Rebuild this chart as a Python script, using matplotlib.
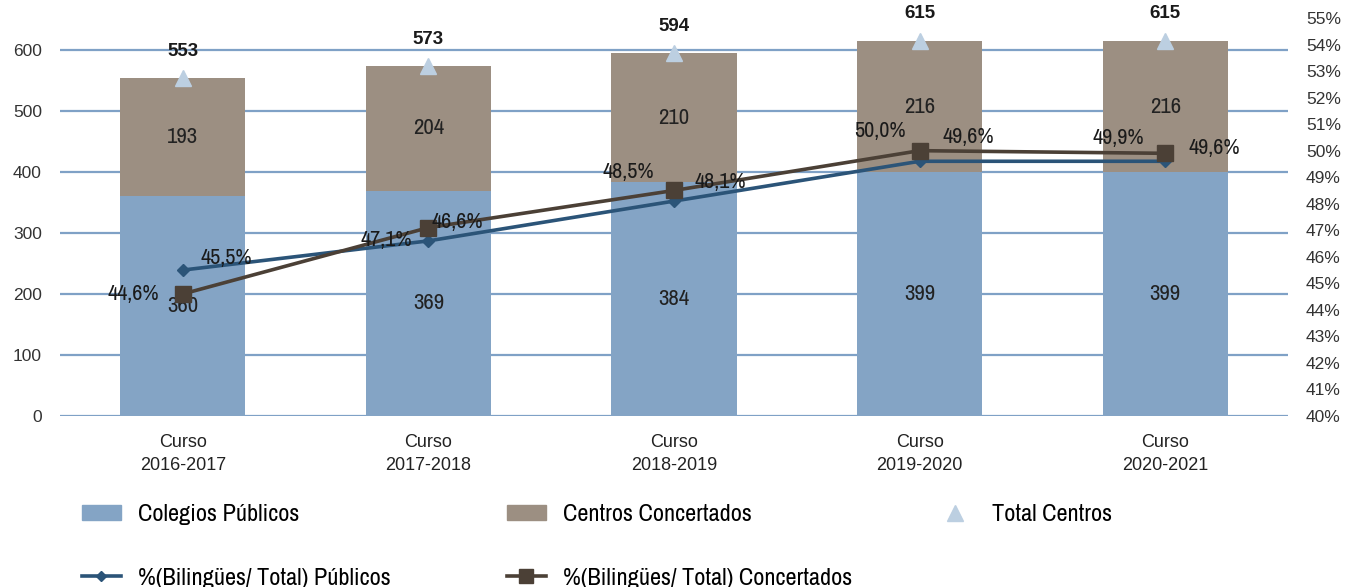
import matplotlib
matplotlib.use('Agg')
import matplotlib.pyplot as plt
from matplotlib.lines import Line2D
from matplotlib.patches import Patch

# data
cursos = ['Curso\n2016-2017', 'Curso\n2017-2018', 'Curso\n2018-2019',
          'Curso\n2019-2020', 'Curso\n2020-2021']
publicos = [360, 369, 384, 399, 399]
concertados = [193, 204, 210, 216, 216]
totales = [553, 573, 594, 615, 615]
pct_publicos = [45.5, 46.6, 48.1, 49.6, 49.6]
pct_concertados = [44.6, 47.1, 48.5, 50.0, 49.9]

c_pub = '#84a4c5'
c_conc = '#9c8f82'
c_lpub = '#2b5478'
c_lconc = '#4b4036'
c_grid = '#7fa1c6'
c_tri = '#bccfe1'
narrow = ['Archivo Narrow', 'DejaVu Sans']
regular = ['Liberation Sans', 'DejaVu Sans']

fig = plt.figure(figsize=(13.46, 5.87), dpi=100)
ax = fig.add_axes([60 / 1346, 1 - 416 / 587, 1228 / 1346, 398 / 587])
ax2 = ax.twinx()

x = list(range(len(cursos)))
w = 0.51
ax.bar(x, publicos, w, color=c_pub, zorder=2)
ax.bar(x, concertados, w, bottom=publicos, color=c_conc, zorder=2)
ax.plot(x, totales, ls='none', marker='^', ms=12, color=c_tri, zorder=3)

for i in x:
    ax.text(i, publicos[i] / 2, str(publicos[i]), ha='center', va='center',
            fontsize=16.5, family=narrow, color='#222222', zorder=4)
    ax.text(i, publicos[i] + concertados[i] / 2, str(concertados[i]),
            ha='center', va='center', fontsize=16.5, family=narrow,
            color='#222222', zorder=4)
    ax.annotate(str(totales[i]), (i, totales[i]), xytext=(0, 27),
                textcoords='offset pixels', ha='center', va='center',
                fontsize=13.5, family=regular, weight='bold', color='#1a1a1a')

ax.set_xlim(-0.5, 4.5)
ax.set_ylim(0, 652)
ax.set_yticks(range(0, 700, 100))
ax.grid(axis='y', color=c_grid, lw=1.6, zorder=0)
ax.set_axisbelow(True)
ax.set_xticks(x)
ax.set_xticklabels(cursos, fontsize=13, family=regular, color='#222222',
                   linespacing=1.45)
for s in ax.spines.values():
    s.set_visible(False)
ax.tick_params(length=0)
ax.tick_params(axis='y', pad=13, labelsize=12.5, colors='#333333')
ax.tick_params(axis='x', pad=13)
for t in ax.get_yticklabels():
    t.set_family(regular)

ax2.plot(x, pct_publicos, color=c_lpub, lw=2.6, marker='D', ms=6, zorder=5)
ax2.plot(x, pct_concertados, color=c_lconc, lw=2.6, marker='s', ms=12,
         zorder=5)
ax2.set_ylim(40, 55)
ax2.set_yticks(range(40, 56))
ax2.set_yticklabels([f'{v}%' for v in range(40, 56)], family=regular)
for s in ax2.spines.values():
    s.set_visible(False)
ax2.tick_params(length=0, pad=13, labelsize=12.5, colors='#333333')

def pct(v):
    return f'{v:.1f}%'.replace('.', ',')

off_pub = [(43, 12), (29, 19), (46, 19), (49, 24), (49, 13)]
off_conc = [(-50, 0), (-42, -12), (-46, 18), (-40, 20), (-47, 15)]
for i in x:
    ax2.annotate(pct(pct_publicos[i]), (i, pct_publicos[i]), xytext=off_pub[i],
                 textcoords='offset pixels', ha='center', va='center',
                 fontsize=16, family=narrow, color='#1a1a1a', zorder=6)
    ax2.annotate(pct(pct_concertados[i]), (i, pct_concertados[i]),
                 xytext=off_conc[i], textcoords='offset pixels', ha='center',
                 va='center', fontsize=16, family=narrow, color='#1a1a1a',
                 zorder=6)

# legend, three columns placed by hand
lkw = dict(frameon=False, prop={'family': narrow, 'size': 17.5},
           handlelength=1.6, handleheight=0.6, handletextpad=0.7,
           labelspacing=1.75, borderaxespad=0, borderpad=0, loc='upper left')
fig.legend([Patch(color=c_pub),
            Line2D([], [], color=c_lpub, lw=2.6, marker='D', ms=5)],
           ['Colegios Públicos', '%(Bilingües/ Total) Públicos'],
           bbox_to_anchor=(82 / 1346, 1 - 504 / 587), **lkw)
fig.legend([Patch(color=c_conc),
            Line2D([], [], color=c_lconc, lw=2.6, marker='s', ms=10)],
           ['Centros Concertados', '%(Bilingües/ Total) Concertados'],
           bbox_to_anchor=(507 / 1346, 1 - 504 / 587), **lkw)
fig.legend([Line2D([], [], ls='none', marker='^', ms=12, color=c_tri)],
           ['Total Centros'],
           bbox_to_anchor=(936 / 1346, 1 - 504 / 587), **lkw)

fig.savefig('out.png', dpi=100)
